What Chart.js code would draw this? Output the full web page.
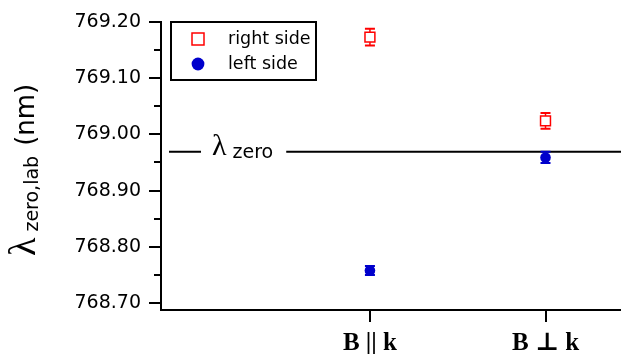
<!DOCTYPE html>
<html>
<head>
<meta charset="utf-8">
<script src="https://cdn.jsdelivr.net/npm/chart.js@4.4.1/dist/chart.umd.min.js"></script>
<style>
  html, body { margin: 0; padding: 0; background: #fff; }
  #wrap { width: 621px; height: 354px; }
</style>
</head>
<body>
<div id="wrap"><canvas id="c" width="621" height="354"></canvas></div>
<script>
// Field orientation categories and their positions on the x scale
const categories = ['B || k', 'B \u22A5 k'];
const categoryPos = [1, 2];

// Measured zero-crossing wavelengths (nm) with uncertainties
const rightSide = [769.173, 769.024];
const rightSideErr = [0.015, 0.014];
const leftSide = [768.758, 768.959];
const leftSideErr = [0.008, 0.010];

// Reference wavelength drawn as a horizontal line
const lambdaZero = 768.969;

// Axis ticks
const yTicks = [768.70, 768.80, 768.90, 769.00, 769.10, 769.20];
const yMinorTicks = [768.75, 768.85, 768.95, 769.05, 769.15];

const SANS = '"DejaVu Sans", Arial, sans-serif';
const SERIF = '"Liberation Serif", "DejaVu Serif", serif';
const RED = 'rgb(255,0,0)';
const BLUE = 'rgb(0,0,204)';

const errorBars = {
  id: 'errorBars',
  beforeDatasetsDraw(chart) {
    const ctx = chart.ctx;
    const ys = chart.scales.y;
    chart.data.datasets.forEach((ds, i) => {
      const meta = chart.getDatasetMeta(i);
      ds.errors.forEach((err, j) => {
        const pt = meta.data[j];
        const v = ds.data[j].y;
        const yt = ys.getPixelForValue(v + err);
        const yb = ys.getPixelForValue(v - err);
        ctx.save();
        ctx.strokeStyle = ds.borderColor;
        ctx.lineWidth = 1.5;
        ctx.beginPath();
        ctx.moveTo(pt.x, yt); ctx.lineTo(pt.x, yb);
        ctx.stroke();
        ctx.lineWidth = 2;
        ctx.beginPath();
        ctx.moveTo(pt.x - 5, yt); ctx.lineTo(pt.x + 5, yt);
        ctx.moveTo(pt.x - 5, yb); ctx.lineTo(pt.x + 5, yb);
        ctx.stroke();
        ctx.restore();
      });
    });
  }
};

const zeroLine = {
  id: 'zeroLine',
  beforeDatasetsDraw(chart) {
    const ctx = chart.ctx;
    const a = chart.chartArea;
    const y = chart.scales.y.getPixelForValue(lambdaZero);
    const tx = a.left + 51;
    ctx.save();
    ctx.font = '30px ' + SERIF;
    const lw = ctx.measureText('\u03BB').width;
    ctx.font = '19px ' + SANS;
    const zw = ctx.measureText('zero').width;
    const zx = tx + lw + 6;
    const tEnd = zx + zw;
    ctx.strokeStyle = '#000';
    ctx.lineWidth = 2;
    ctx.beginPath();
    ctx.moveTo(a.left + 8, y); ctx.lineTo(tx - 11, y);
    ctx.moveTo(tEnd + 13, y); ctx.lineTo(a.right, y);
    ctx.stroke();
    ctx.fillStyle = '#000';
    ctx.textBaseline = 'alphabetic';
    ctx.font = '30px ' + SERIF;
    ctx.fillText('\u03BB', tx, y + 3);
    ctx.font = '19px ' + SANS;
    ctx.fillText('zero', zx, y + 6);
    ctx.restore();
  }
};

const decorations = {
  id: 'decorations',
  afterDraw(chart) {
    const ctx = chart.ctx;
    const a = chart.chartArea;
    const ys = chart.scales.y;
    ctx.save();
    // minor ticks on the value axis
    ctx.strokeStyle = '#000';
    ctx.lineWidth = 2;
    ctx.beginPath();
    yMinorTicks.forEach(v => {
      const y = Math.round(ys.getPixelForValue(v));
      ctx.moveTo(a.left - 7, y); ctx.lineTo(a.left, y);
    });
    ctx.stroke();

    // legend box with slightly enlarged markers
    const bx = a.left + 10, by = a.top, bw = 145, bh = 58;
    ctx.lineWidth = 2;
    ctx.strokeRect(bx, by, bw, bh);
    const rows = [17, 42];
    chart.data.datasets.forEach((ds, i) => {
      const cy = by + rows[i];
      const cx = bx + 27;
      ctx.fillStyle = ds.backgroundColor;
      ctx.strokeStyle = ds.borderColor;
      ctx.lineWidth = ds.borderWidth;
      ctx.beginPath();
      if (ds.pointStyle === 'rect') {
        ctx.rect(cx - 6, cy - 6, 12, 12);
      } else {
        ctx.arc(cx, cy, 6.4, 0, Math.PI * 2);
      }
      ctx.fill();
      if (ds.borderWidth) ctx.stroke();
      ctx.fillStyle = '#000';
      ctx.font = '17.5px ' + SANS;
      ctx.textBaseline = 'middle';
      ctx.fillText(ds.label, bx + 57, cy);
    });

    // value axis title with subscript
    ctx.translate(35, 256);
    ctx.rotate(-Math.PI / 2);
    ctx.fillStyle = '#000';
    ctx.textBaseline = 'alphabetic';
    let x = 0;
    ctx.font = '38px ' + SERIF;
    ctx.fillText('\u03BB', x, 0);
    x += ctx.measureText('\u03BB').width + 6;
    ctx.font = '19px ' + SANS;
    ctx.fillText('zero,lab', x, 3);
    x += ctx.measureText('zero,lab').width + 10;
    ctx.font = '26px ' + SANS;
    ctx.fillText('(nm)', x, -1);
    ctx.restore();
  }
};

new Chart(document.getElementById('c'), {
  type: 'scatter',
  data: {
    datasets: [
      {
        label: 'right side',
        data: categoryPos.map((x, i) => ({ x, y: rightSide[i] })),
        errors: rightSideErr,
        pointStyle: 'rect',
        pointRadius: 7,
        borderWidth: 1.5,
        borderColor: RED,
        backgroundColor: '#fff'
      },
      {
        label: 'left side',
        data: categoryPos.map((x, i) => ({ x, y: leftSide[i] })),
        errors: leftSideErr,
        pointStyle: 'circle',
        pointRadius: 5.3,
        borderWidth: 0,
        borderColor: BLUE,
        backgroundColor: BLUE
      }
    ]
  },
  options: {
    responsive: false,
    devicePixelRatio: 1,
    animation: false,
    layout: { autoPadding: false, padding: { top: 22, left: 0, right: 0, bottom: 0 } },
    plugins: { legend: { display: false }, tooltip: { enabled: false } },
    scales: {
      x: {
        type: 'linear',
        min: -0.19,
        max: 2.43,
        afterBuildTicks: s => { s.ticks = categoryPos.map(v => ({ value: v })); },
        afterFit: s => { s.height = 44; s.paddingLeft = 0; s.paddingRight = 0; },
        ticks: {
          callback: (v, i) => categories[i],
          color: '#000',
          font: { family: SERIF, size: 25, weight: 'bold' },
          padding: 7,
          maxRotation: 0
        },
        grid: { drawOnChartArea: false, drawTicks: true, tickLength: 12, color: '#000', lineWidth: 2 },
        border: { display: true, color: '#000', width: 2 }
      },
      y: {
        type: 'linear',
        min: 768.6875,
        max: 769.20,
        afterBuildTicks: s => { s.ticks = yTicks.map(v => ({ value: v })); },
        afterFit: s => { s.width = 161; },
        ticks: {
          callback: v => v.toFixed(2),
          color: '#000',
          font: { family: SANS, size: 19 },
          padding: 8
        },
        grid: { drawOnChartArea: false, drawTicks: true, tickLength: 12, color: '#000', lineWidth: 2 },
        border: { display: true, color: '#000', width: 2 }
      }
    }
  },
  plugins: [zeroLine, errorBars, decorations]
});
</script>
</body>
</html>
